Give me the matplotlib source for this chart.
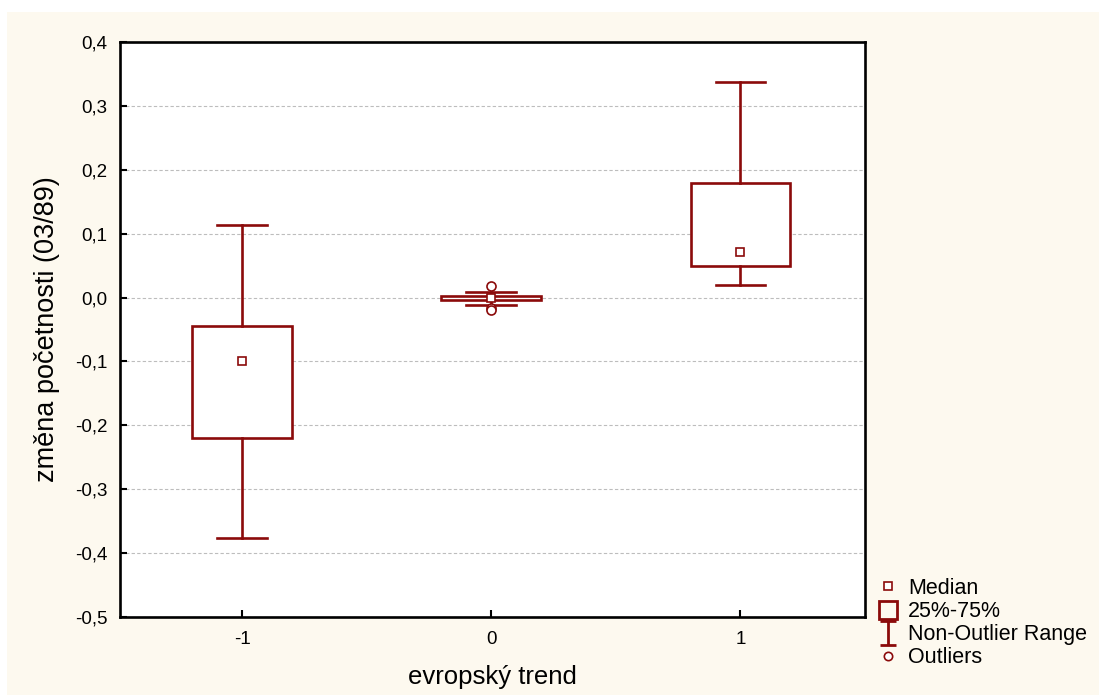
import matplotlib
matplotlib.use("Agg")
import matplotlib.pyplot as plt
from matplotlib.lines import Line2D
from matplotlib.patches import Rectangle
from matplotlib.path import Path

plt.rcParams["font.family"] = ["Liberation Sans", "DejaVu Sans"]

# trend groups and box statistics
groups = [-1, 0, 1]
medians = [-0.100, 0.000, 0.072]
q1 = [-0.220, -0.004, 0.050]
q3 = [-0.044, 0.003, 0.179]
whisker_lo = [-0.376, -0.012, 0.020]
whisker_hi = [0.113, 0.008, 0.338]
outliers = [[], [0.018, -0.016, -0.020], []]

yticks = [-0.5, -0.4, -0.3, -0.2, -0.1, 0.0, 0.1, 0.2, 0.3, 0.4]
xticklabels = ["-1", "0", "1"]

red = "#8b0a0a"
cream = "#fdf9ef"

fig = plt.figure(figsize=(10.99, 6.95), dpi=100)
fig.patch.set_facecolor("white")
fig.patches.append(Rectangle((7 / 1099, 0), 1, 1 - 12 / 695, transform=fig.transFigure,
                             facecolor=cream, edgecolor="none", zorder=-10))

ax = fig.add_axes([120 / 1099, 1 - 617 / 695, 745 / 1099, 575 / 695])
ax.set_facecolor("white")

stats = []
for i in range(len(groups)):
    stats.append({
        "med": medians[i], "q1": q1[i], "q3": q3[i],
        "whislo": whisker_lo[i], "whishi": whisker_hi[i],
        "fliers": outliers[i], "label": xticklabels[i],
    })

ax.bxp(stats, positions=groups, widths=0.4, patch_artist=True,
       boxprops=dict(facecolor="white", edgecolor=red, linewidth=1.9),
       whiskerprops=dict(color=red, linewidth=1.9),
       capprops=dict(color=red, linewidth=1.9),
       capwidths=0.2,
       medianprops=dict(linestyle="none"),
       flierprops=dict(marker="o", markersize=6.5, markerfacecolor="white",
                       markeredgecolor=red, markeredgewidth=1.2),
       zorder=3)
ax.plot(groups, medians, "s", markersize=6, markerfacecolor="white",
        markeredgecolor=red, markeredgewidth=1.2, zorder=5)

ax.set_xlim(-1.49, 1.5)
ax.set_ylim(-0.5, 0.4)
ax.set_yticks(yticks)
ax.set_yticklabels([f"{v:.1f}".replace(".", ",") for v in yticks])
ax.set_xticks(groups)
ax.set_xticklabels(xticklabels)
ax.tick_params(direction="in", length=5, width=1.5, labelsize=13.5, colors="black")
ax.tick_params(axis="y", pad=9)
ax.tick_params(axis="x", pad=10)
ax.grid(axis="y", color="#bdbdbd", linestyle=(0, (3, 2)), linewidth=0.8, zorder=0)
ax.set_axisbelow(True)
for s in ax.spines.values():
    s.set_linewidth(1.9)
    s.set_color("black")

ax.set_xlabel("evropský trend", fontsize=18.5, labelpad=12)
ax.set_ylabel("změna početnosti (03/89)", fontsize=19.5, labelpad=11)

# whisker-style legend glyph
range_marker = Path([(-0.7, 1), (0.7, 1), (0, 1), (0, -1), (-0.7, -1), (0.7, -1)],
                    [Path.MOVETO, Path.LINETO, Path.MOVETO, Path.LINETO, Path.MOVETO, Path.LINETO])
handles = [
    Line2D([], [], linestyle="none", marker="s", markersize=6, markerfacecolor="white",
           markeredgecolor=red, markeredgewidth=1.2),
    Line2D([], [], linestyle="none", marker="s", markersize=13.5, markerfacecolor="none",
           markeredgecolor=red, markeredgewidth=2),
    Line2D([], [], linestyle="none", marker=range_marker, markersize=17,
           markeredgecolor=red, markeredgewidth=2),
    Line2D([], [], linestyle="none", marker="o", markersize=6, markerfacecolor="white",
           markeredgecolor=red, markeredgewidth=1.2),
]
labels = ["Median", "25%-75%", "Non-Outlier Range", "Outliers"]
fig.legend(handles, labels, loc="upper left", bbox_to_anchor=(877 / 1099, 1 - 578 / 695),
           frameon=False, fontsize=15.5, handlelength=1.0, handletextpad=0.45,
           labelspacing=0.1, borderaxespad=0, borderpad=0)

fig.savefig("out.png", dpi=100, facecolor=fig.get_facecolor())
